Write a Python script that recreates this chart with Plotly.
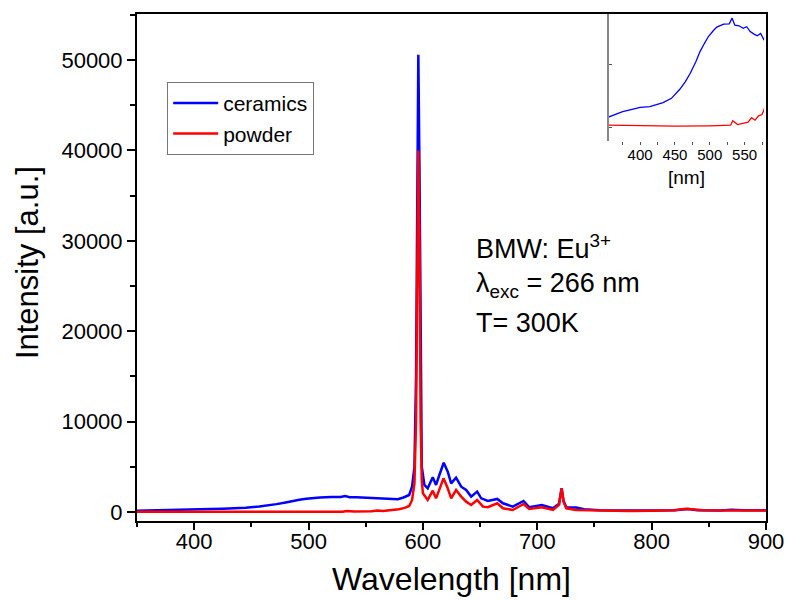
import plotly.graph_objects as go

# ---------------- data ----------------
wl_ceramics = [350, 365, 375, 390, 400, 414, 425, 433, 445, 457, 465, 472, 480, 486, 492, 498,
               505, 510, 520, 528, 532, 536, 542, 548, 553, 558, 563, 568, 573, 578, 583, 588,
               590.5, 592.6, 594, 595, 596, 597, 598, 599, 601.3, 604.2, 608.6, 611.5, 614.4,
               618.2, 621.7, 624.7, 629, 633.5, 637.8, 642.2, 647.4, 651, 656.8, 665, 670,
               678.6, 688, 693, 704, 713.7, 719, 721.3, 723, 725.4, 734, 741, 754.5, 760, 780,
               800, 820, 832, 840, 860, 870, 880, 900]
int_ceramics = [140, 200, 247, 290, 317, 330, 360, 392, 462, 608, 730, 866, 1050, 1215, 1340, 1457,
                1550, 1608, 1656, 1661, 1753, 1640, 1630, 1590, 1615, 1538, 1500, 1468, 1505, 1400, 1600, 1880,
                2800, 5000, 15000, 35000, 50600, 38000, 15000, 5000, 3000, 2620, 3840, 2990, 4090,
                5450, 4460, 3170, 3800, 2800, 2430, 1700, 2250, 1510, 1220, 1440, 960,
                590, 1220, 520, 770, 410, 900, 2620, 1200, 520, 490, 300, 200, 180, 150,
                170, 200, 330, 200, 160, 250, 200, 180]

wl_powder = [350, 400, 450, 500, 530, 533, 540, 555, 560, 565, 570, 575, 579, 584, 588,
             590.5, 592.6, 594, 595, 596, 597, 598, 599, 600, 604.2, 608.6, 611.5, 614.4,
             618, 621.7, 624.7, 629, 633.5, 637.8, 642.2, 647.4, 652.5, 656.8, 665, 670,
             678.6, 688, 693, 704, 713.7, 719, 721.3, 723, 725.4, 734, 754.5, 760, 780,
             800, 820, 830, 835, 845, 870, 900]
int_powder = [30, 20, 15, 20, 30, 100, 40, 80, 150, 110, 180, 200, 300, 450, 660,
              1300, 3170, 10000, 28000, 40000, 30000, 10000, 3500, 2070, 1330, 2360, 1510, 2430,
              3720, 2620, 1510, 2430, 1700, 1140, 770, 1330, 590, 520, 960, 410,
              220, 885, 330, 520, 220, 800, 2620, 1100, 410, 220, 150, 150, 120,
              140, 180, 350, 300, 180, 150, 160]

series_names = ["ceramics", "powder"]
series_colors = ["#0000FF", "#FF0000"]

FONT = "Liberation Sans, Arial, sans-serif"

fig = go.Figure()

# main traces
fig.add_trace(go.Scatter(x=wl_ceramics, y=int_ceramics, mode="lines", name=series_names[0],
                         line=dict(color=series_colors[0], width=2.5), xaxis="x", yaxis="y"))
fig.add_trace(go.Scatter(x=wl_powder, y=int_powder, mode="lines", name=series_names[1],
                         line=dict(color=series_colors[1], width=2.5), xaxis="x", yaxis="y"))

# inset traces (same data, zoomed)
fig.add_trace(go.Scatter(x=wl_ceramics, y=int_ceramics, mode="lines", showlegend=False,
                         line=dict(color=series_colors[0], width=1.3), xaxis="x2", yaxis="y2"))
fig.add_trace(go.Scatter(x=wl_powder, y=int_powder, mode="lines", showlegend=False,
                         line=dict(color=series_colors[1], width=1.3), xaxis="x2", yaxis="y2"))

fig.update_layout(
    width=785, height=600,
    margin=dict(l=137, r=19, t=14, b=79, autoexpand=False),
    paper_bgcolor="white", plot_bgcolor="white",
    font=dict(family=FONT, color="black"),
    xaxis=dict(domain=[0, 1], range=[350, 900], tick0=400, dtick=100,
               ticks="outside", ticklen=7, tickwidth=2, tickcolor="black",
               minor=dict(dtick=50, ticks="outside", ticklen=4, tickwidth=2, tickcolor="black"),
               showline=True, linewidth=2, linecolor="black", mirror=True,
               showgrid=False, zeroline=False, automargin=False,
               ticklabelstandoff=-7,
               tickfont=dict(size=22, family=FONT),
               title=dict(text="Wavelength [nm]", font=dict(size=32, family=FONT), standoff=14)),
    yaxis=dict(domain=[0, 1], range=[-1000, 55100], dtick=10000, tickformat="d",
               ticks="outside", ticklen=8, tickwidth=2, tickcolor="black",
               minor=dict(dtick=5000, ticks="outside", ticklen=5, tickwidth=2, tickcolor="black"),
               showline=True, linewidth=2, linecolor="black", mirror=True,
               showgrid=False, zeroline=False, automargin=False,
               tickfont=dict(size=22, family=FONT)),
    xaxis2=dict(domain=[0.750, 0.997], anchor="y2", range=[355, 578], tick0=400, dtick=50,
                ticks="outside", ticklen=3, tickwidth=1, tickcolor="#555555",
                minor=dict(dtick=25, ticks="outside", ticklen=3, tickwidth=1, tickcolor="#555555"),
                showline=False, showgrid=False, zeroline=False, automargin=False,
                ticklabelstandoff=-3,
                tickfont=dict(size=15, family=FONT),
                title=dict(text="[nm]", font=dict(size=19, family=FONT), standoff=8)),
    yaxis2=dict(domain=[0.7495, 1.0], anchor="x2", range=[-225, 1820], dtick=1000,
                ticks="inside", ticklen=3, tickwidth=1, tickcolor="#555555",
                showticklabels=False, showline=True, linewidth=2, linecolor="#888888",
                showgrid=False, zeroline=False, automargin=False),
    legend=dict(x=0.048, y=0.866, xanchor="left", yanchor="top",
                bordercolor="#777777", borderwidth=1, bgcolor="white",
                font=dict(size=21, family=FONT), tracegroupgap=0, itemwidth=45),
    showlegend=True,
)

# y-axis title as rotated text
fig.add_annotation(xref="paper", yref="paper", x=-0.173, y=0.509, xanchor="center", yanchor="middle",
                   text="Intensity [a.u.]", textangle=-90, showarrow=False,
                   font=dict(size=31, family=FONT, color="black"))

ann_font = dict(size=27, family=FONT, color="black")
fig.add_annotation(xref="paper", yref="paper", x=0.536, y=0.540, xanchor="left", yanchor="middle",
                   text="BMW: Eu<sup>3+</sup>", showarrow=False, font=ann_font)
fig.add_annotation(xref="paper", yref="paper", x=0.536, y=0.465, xanchor="left", yanchor="middle",
                   text="λ<sub>exc</sub> = 266 nm", showarrow=False, font=ann_font)
fig.add_annotation(xref="paper", yref="paper", x=0.536, y=0.390, xanchor="left", yanchor="middle",
                   text="T= 300K", showarrow=False, font=ann_font)

fig.write_html("out.html")
